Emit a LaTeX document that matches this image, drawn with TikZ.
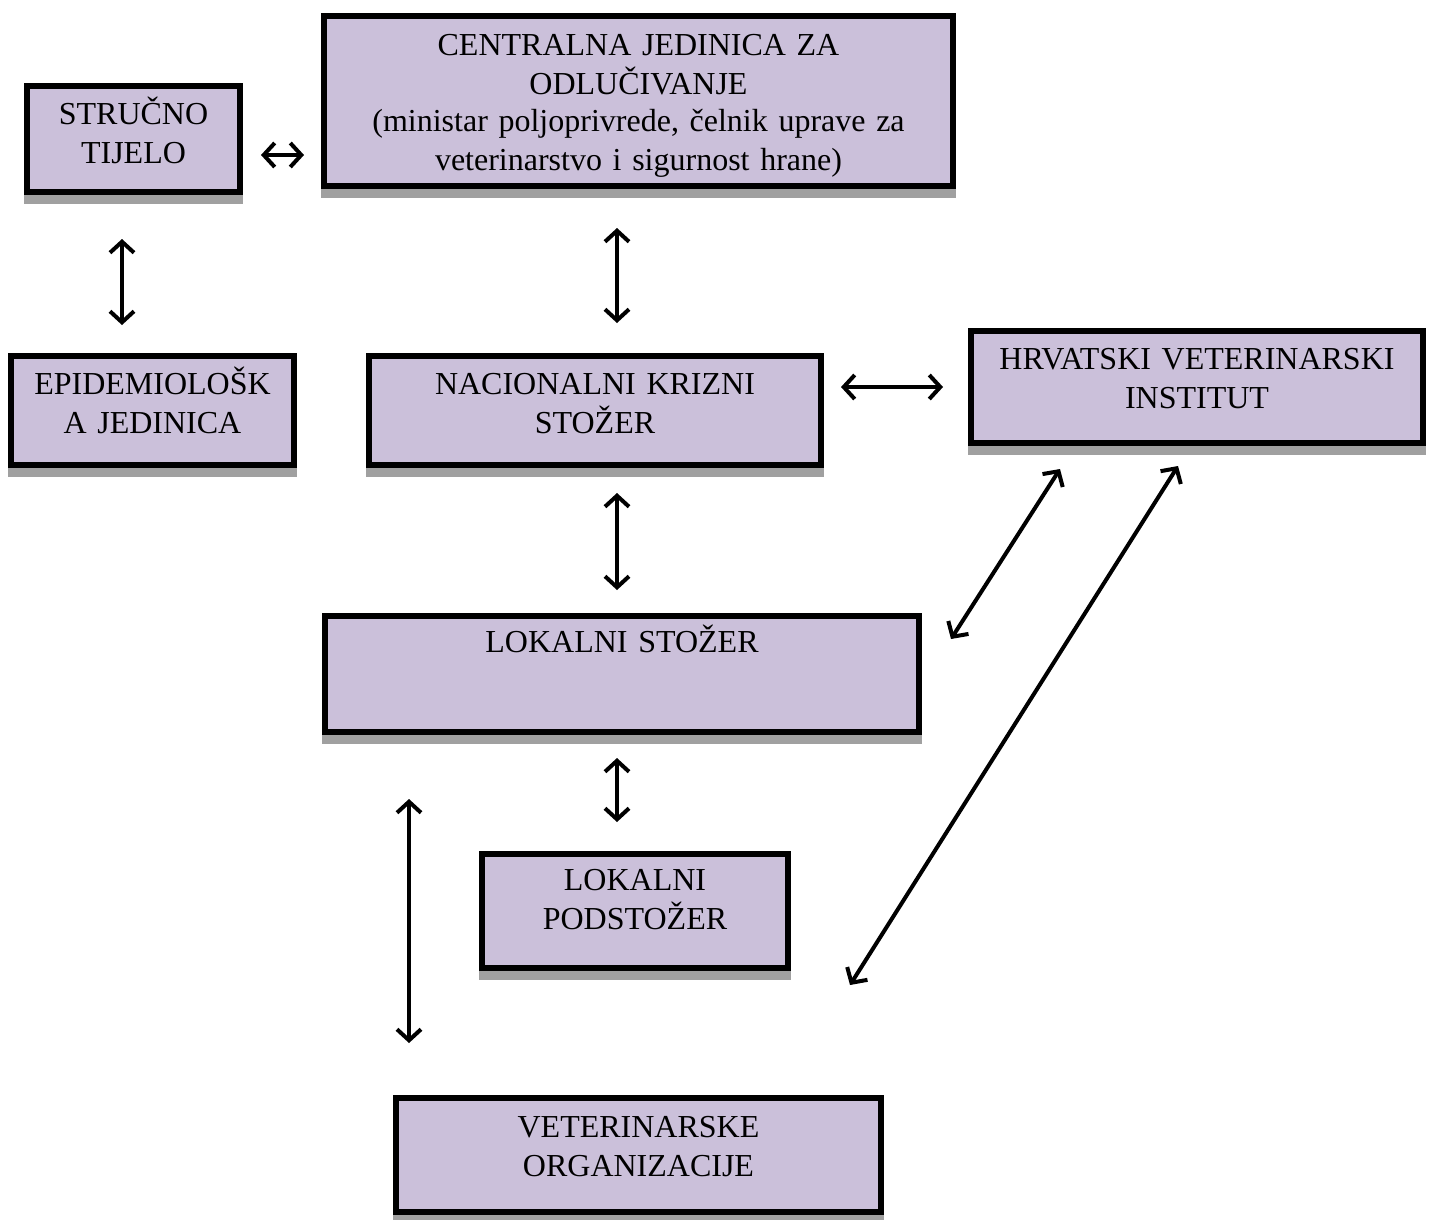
\documentclass[tikz,border=0pt]{standalone}
\usepackage{fontspec}
\setmainfont{Liberation Serif}
\usepackage{xcolor}
\usepackage{tikz}
\usetikzlibrary{arrows.meta}
\usetikzlibrary{shadows}
\definecolor{lavanda}{RGB}{203,192,218}
\definecolor{sjena}{RGB}{160,160,160}
\tikzset{
  okvir/.style={draw=black, line width=6pt, fill=lavanda, anchor=north,
    inner sep=0pt, align=center, text height=38pt,
    font=\fontsize{32}{39}\selectfont,
    general shadow={fill=sjena, draw=sjena, line width=6pt, shadow yshift=-9pt}},
  strelica/.style={line width=4pt, {Straight Barb[length=11pt,width=24pt]}-{Straight Barb[length=11pt,width=24pt]}}
}
\begin{document}
\begin{tikzpicture}[x=1pt,y=-1pt]
\useasboundingbox (0,0) rectangle (1434,1219);

\node[okvir, text width=213pt, text depth=68pt] (strucno) at (133.5,83) {STRUČNO\\TIJELO};
\node[okvir, text width=629pt, text depth=131pt, text height=39pt] (central) at (638.5,13)
  {CENTRALNA JEDINICA ZA\\ODLUČIVANJE\\[-2pt](ministar poljoprivrede, čelnik uprave za\\veterinarstvo i sigurnost hrane)};
\node[okvir, text width=283pt, text depth=71pt] (epid) at (152.5,353) {EPIDEMIOLOŠK\\A JEDINICA};
\node[okvir, text width=452pt, text depth=71pt] (nac) at (595,353) {NACIONALNI KRIZNI\\STOŽER};
\node[okvir, text width=452pt, text depth=74pt] (hvi) at (1197,328) {HRVATSKI VETERINARSKI\\INSTITUT};
\node[okvir, text width=594pt, text depth=80pt, text height=36pt] (lok) at (622,613) {LOKALNI STOŽER};
\node[okvir, text width=306pt, text depth=78pt, text height=36pt] (pod) at (635,851) {LOKALNI\\PODSTOŽER};
\node[okvir, text width=485pt, text depth=75pt, text height=39pt] (vet) at (638.5,1095) {VETERINARSKE\\ORGANIZACIJE};

\coordinate (sredina) at (617,0);
\coordinate (lijevo) at (409,0);
\coordinate (kraj) at (850,985);

% veze
\draw[strelica, shorten <=18pt, shorten >=17pt] ([yshift=-16pt]strucno.east) -- ([yshift=-16pt]strucno.east -| central.west);
\draw[strelica, shorten <=44pt, shorten >=28pt] ([xshift=-11.5pt]strucno.south) -- ([xshift=-11.5pt]strucno.south |- epid.north);
\draw[strelica, shorten <=39pt, shorten >=30pt] (central.south -| sredina) -- (nac.north -| sredina);
\draw[strelica, shorten <=17pt, shorten >=25pt] (nac.east |- hvi.west) -- (hvi.west);
\draw[strelica, shorten <=25pt, shorten >=23pt] (nac.south -| sredina) -- (lok.north -| sredina);
\draw[strelica, shorten <=23pt, shorten >=29pt] (lok.south -| sredina) -- (pod.north -| sredina);
\draw[strelica] ([xshift=-137pt,yshift=-23pt]hvi.south) -- ([xshift=29pt,yshift=35pt]lok.east);
\draw[strelica] ([xshift=-19pt,yshift=-20pt]hvi.south) -- (kraj);
\draw[strelica, shorten <=64pt, shorten >=52pt] (lok.south -| lijevo) -- (vet.north -| lijevo);
\end{tikzpicture}
\end{document}
